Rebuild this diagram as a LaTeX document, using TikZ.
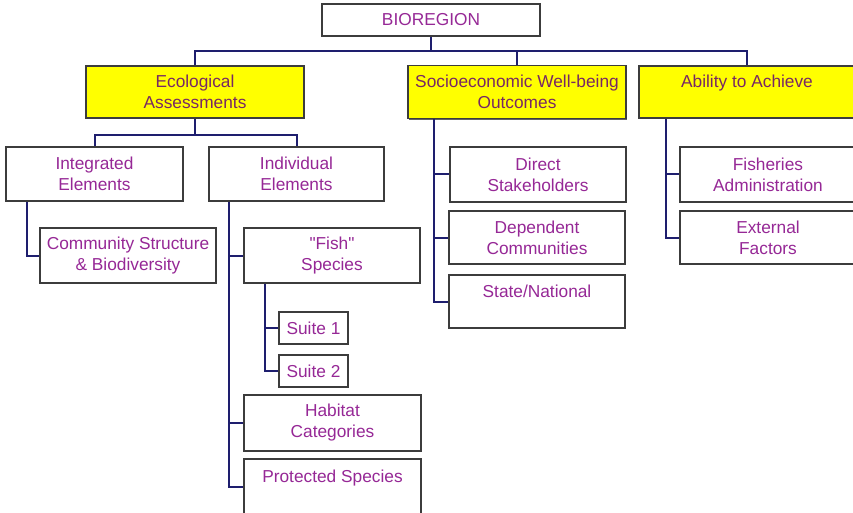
\documentclass[tikz,border=0pt]{standalone}
\usepackage{fontspec}
\setmainfont{Liberation Sans}[Ligatures=TeXOff]
\usetikzlibrary{shadows}
\definecolor{txtpurple}{RGB}{150,40,150}
\definecolor{txtdark}{RGB}{120,40,100}
\definecolor{navyline}{RGB}{30,30,110}
\definecolor{boxborder}{RGB}{60,60,60}
\definecolor{boxyellow}{RGB}{255,255,0}
\tikzset{
  box/.style={draw=boxborder, line width=1.6pt, fill=white, inner sep=0pt,
    align=center, text=txtpurple,
    font=\fontsize{17.3}{21}\selectfont,
    drop shadow={shadow xshift=1.3pt, shadow yshift=-1.3pt, fill=boxborder, opacity=0.8}},
  ybox/.style={box, fill=boxyellow, text=txtdark},
  conn/.style={draw=navyline, line width=2pt},
}
\begin{document}
\begin{tikzpicture}[x=1pt,y=-1pt]
\useasboundingbox (0,0) rectangle (853,513);
% level 0
\node[box, minimum width=218, minimum height=32] (bio) at (431,20) {BIOREGION};
% level 1
\node[ybox, minimum width=218, minimum height=52] (eco) at (195,92) {Ecological\\Assessments};
\node[ybox, minimum width=218, minimum height=53] (soc) at (517,92) {Socioeconomic Well-being\\Outcomes};
\node[ybox, minimum width=216, minimum height=52] (abl) at (747,92) {Ability to Achieve\\\mbox{}};
% ecological children
\node[box, minimum width=177, minimum height=54] (integ) at (94.5,174) {Integrated\\Elements};
\node[box, minimum width=175, minimum height=54] (indiv) at (296.5,174) {Individual\\Elements};
\node[box, minimum width=176, minimum height=55] (comm) at (128,255.5) {Community Structure\\\& Biodiversity};
\node[box, minimum width=176, minimum height=55] (fish) at (332,255.5) {"Fish"\\Species};
\node[box, minimum width=69, minimum height=32] (suite1) at (313.5,328) {Suite 1};
\node[box, minimum width=69, minimum height=32] (suite2) at (313.5,371) {Suite 2};
\node[box, minimum width=177, minimum height=56] (habitat) at (332.5,423) {Habitat\\Categories};
\node[box, minimum width=177, minimum height=56] (prot) at (332.5,487) {Protected Species\\\mbox{}};
% socioeconomic children
\node[box, minimum width=176, minimum height=55] (direct) at (538,174.5) {Direct\\Stakeholders};
\node[box, minimum width=176, minimum height=53] (depend) at (537,237.5) {Dependent\\Communities};
\node[box, minimum width=176, minimum height=53] (state) at (537,301.5) {State/National\\\mbox{}};
% ability children
\node[box, minimum width=176, minimum height=55] (fadmin) at (768,174.5) {Fisheries\\Administration};
\node[box, minimum width=176, minimum height=53] (ext) at (768,237.5) {External\\Factors};
% connectors top
\draw[conn] (bio.south) -- ++(0,14) coordinate (j1);
\draw[conn] (eco.north) |- (j1) -| (abl.north);
\draw[conn] (j1 -| soc.north) -- (soc.north);
% ecological
\draw[conn] (eco.south) -- ++(0,16) coordinate (j2);
\draw[conn] (integ.north) |- (j2) -| (indiv.north);
\coordinate (ig) at ([xshift=22]integ.south west);
\draw[conn] (ig) |- (comm.west);
\coordinate (iv) at ([xshift=21]indiv.south west);
\draw[conn] (iv) |- (prot.west);
\draw[conn] (iv |- fish.west) -- (fish.west);
\draw[conn] (iv |- habitat.west) -- (habitat.west);
\coordinate (fs) at ([xshift=22]fish.south west);
\draw[conn] (fs) |- (suite2.west);
\draw[conn] (fs |- suite1.west) -- (suite1.west);
% socioeconomic
\coordinate (sc) at ([xshift=27]soc.south west);
\draw[conn] (sc) |- (state.west);
\draw[conn] (sc |- direct.west) -- (direct.west);
\draw[conn] (sc |- depend.west) -- (depend.west);
% ability
\coordinate (ab) at ([xshift=28]abl.south west);
\draw[conn] (ab) |- (ext.west);
\draw[conn] (ab |- fadmin.west) -- (fadmin.west);
\end{tikzpicture}
\end{document}
